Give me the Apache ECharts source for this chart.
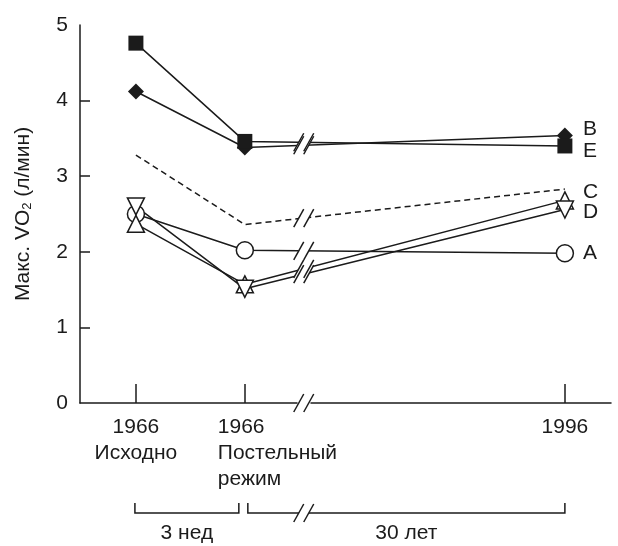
<!DOCTYPE html>
<html>
<head>
<meta charset="utf-8">
<script src="https://cdn.jsdelivr.net/npm/echarts@6/dist/echarts.min.js"></script>
<style>
  html, body { margin: 0; padding: 0; background: #fff; }
  #chart { width: 618px; height: 546px; }
</style>
</head>
<body>
<div id="chart"></div>
<script>
// Time of each test, in weeks after the baseline test:
// baseline, after 3 weeks of bed rest, and 30 years later.
const stageWeeks = [0, 3, 1565];
const stageYears = ['1966', '1966', '1996'];
const stageNames = [['Исходно'], ['Постельный', 'режим'], []];
const periodLabels = ['3 нед', '30 лет'];

// Max VO2, l/min, per subject and the group mean
const subjectA = [2.50, 2.02, 1.98];
const subjectB = [4.12, 3.38, 3.54];
const subjectC = [2.37, 1.57, 2.68];
const subjectD = [2.60, 1.51, 2.56];
const subjectE = [4.76, 3.46, 3.40];
const groupMean = [3.28, 2.36, 2.83];

const yTicks = [0, 1, 2, 3, 4, 5];

const INK = '#1b1b1b';
const FONT = '"Liberation Sans", Arial, Helvetica, sans-serif';
const FS = 21;

// Broken time axis: the 30-year stretch is cut out of the scale.
const AXIS_MIN = -1.54;
const AXIS_MAX = 1566.27;
const AXIS_BREAK = { start: 4.43, end: 1558.0, gap: 0.385 };

const chart = echarts.init(document.getElementById('chart'), null, { renderer: 'canvas' });

function toPoints(values) {
  return values.map((v, i) => [stageWeeks[i], v]);
}

function stageIndex(value) {
  for (let i = 0; i < stageWeeks.length; i++) {
    if (Math.abs(stageWeeks[i] - value) < 0.01) return i;
  }
  return -1;
}

function subjectSeries(letter, values, marker) {
  return {
    type: 'line',
    name: letter,
    data: toPoints(values),
    symbol: marker.symbol,
    symbolSize: marker.size,
    symbolRotate: marker.rotate || 0,
    showAllSymbol: true,
    lineStyle: { color: INK, width: 1.5 },
    itemStyle: {
      color: marker.filled ? INK : '#fff',
      borderColor: INK,
      borderWidth: marker.filled ? 0 : 1.5
    },
    emphasis: { disabled: true },
    endLabel: {
      show: true,
      formatter: letter,
      distance: 18,
      offset: [0, marker.labelDy],
      color: INK,
      fontSize: FS,
      fontFamily: FONT
    },
    z: 2
  };
}

// Short "//" mark across a line, with the line cut between the strokes
function breakMark(bx, by, children) {
  const hx = 5, hy = 9, g = 5;
  const a1 = [bx - g - hx, by + hy], a2 = [bx - g + hx, by - hy];
  const b1 = [bx + g - hx, by + hy], b2 = [bx + g + hx, by - hy];
  children.push({
    type: 'polygon', z2: 1,
    shape: { points: [a1, a2, b2, b1] },
    style: { fill: '#fff' }
  });
  [[a1, a2], [b1, b2]].forEach(([p, q]) => {
    children.push({
      type: 'line', z2: 2,
      shape: { x1: p[0], y1: p[1], x2: q[0], y2: q[1] },
      style: { stroke: INK, lineWidth: 1.5 }
    });
  });
}

function breakCenterX(api) {
  return (api.coord([AXIS_BREAK.start, 0])[0] + api.coord([AXIS_BREAK.end, 0])[0]) / 2;
}

function renderSegmentBreak(params, api) {
  const p1 = api.coord([api.value(0), api.value(1)]);
  const p2 = api.coord([api.value(2), api.value(3)]);
  const bx = breakCenterX(api);
  const by = p1[1] + (bx - p1[0]) / (p2[0] - p1[0]) * (p2[1] - p1[1]);
  const children = [];
  breakMark(bx, by, children);
  return { type: 'group', children };
}

function renderPeriod(params, api) {
  const i = params.dataIndex;
  const pa = api.coord([api.value(0), 0]);
  const pb = api.coord([api.value(1), 0]);
  let left = pa[0], right = pb[0];
  if (i === 0) { left -= 1; right -= 6; } else { left += 3; }
  const y = pa[1] + 110;
  const cap = 10;
  const children = [{
    type: 'polyline', z2: 0,
    shape: { points: [[left, y - cap], [left, y], [right, y], [right, y - cap]] },
    style: { stroke: INK, lineWidth: 1.5, fill: null }
  }, {
    type: 'text', z2: 3,
    style: {
      text: periodLabels[i],
      x: (left + right) / 2, y: y + 20,
      align: 'center', verticalAlign: 'middle',
      fontSize: FS, fontFamily: FONT, fill: INK
    }
  }];
  if (i === 1) breakMark(breakCenterX(api), y, children);
  return { type: 'group', children };
}

const allLines = [groupMean, subjectA, subjectB, subjectC, subjectD, subjectE];
const segmentBreaks = allLines.map(v => [stageWeeks[1], v[1], stageWeeks[2], v[2]]);
segmentBreaks.push([stageWeeks[1], 0, stageWeeks[2], 0]);

const option = {
  backgroundColor: '#fff',
  animation: false,
  grid: { left: 80, right: 7, top: 25, bottom: 143 },
  xAxis: {
    type: 'value',
    min: AXIS_MIN,
    max: AXIS_MAX,
    breaks: [AXIS_BREAK],
    breakArea: { show: false },
    axisLine: { show: true, onZero: false, lineStyle: { color: INK, width: 1.5 } },
    axisTick: {
      show: true, inside: true, length: 19,
      customValues: stageWeeks,
      lineStyle: { color: INK, width: 1.5 }
    },
    axisLabel: {
      customValues: stageWeeks,
      hideOverlap: false,
      showMinLabel: true,
      showMaxLabel: true,
      color: INK, fontSize: FS, fontFamily: FONT,
      lineHeight: 26, margin: 11,
      formatter: (value) => {
        const i = stageIndex(value);
        if (i < 0) return '';
        const lines = [stageYears[i]].concat(stageNames[i]);
        if (i === 1) return lines.map(s => '{L|' + s + '}').join('\n');
        return lines.join('\n');
      },
      rich: {
        // narrow box so the left-aligned block starts a little left of its tick
        L: { fontSize: FS, fontFamily: FONT, color: INK, lineHeight: 26, align: 'left', width: 54 }
      }
    },
    splitLine: { show: false }
  },
  yAxis: {
    type: 'value',
    min: yTicks[0],
    max: yTicks[yTicks.length - 1],
    interval: 1,
    axisLine: { show: true, onZero: false, lineStyle: { color: INK, width: 1.5 } },
    axisTick: {
      show: true, inside: true, length: 10,
      customValues: yTicks.slice(1, -1),
      lineStyle: { color: INK, width: 1.5 }
    },
    axisLabel: { color: INK, fontSize: FS, fontFamily: FONT, margin: 12, showMinLabel: true, showMaxLabel: true },
    splitLine: { show: false },
    name: '{n|Макс. VO}{s|2}{n| (л/мин)}',
    nameLocation: 'middle',
    nameRotate: 90,
    nameGap: 46,
    nameTextStyle: {
      color: INK,
      rich: {
        n: { fontSize: FS, fontFamily: FONT, color: INK },
        s: { fontSize: 13, fontFamily: FONT, color: INK, padding: [9, 0, 0, 0] }
      }
    }
  },
  series: [
    {
      type: 'line',
      name: 'mean',
      data: toPoints(groupMean),
      symbol: 'none',
      lineStyle: { color: INK, width: 1.5, type: [6, 4] },
      emphasis: { disabled: true },
      z: 1
    },
    subjectSeries('A', subjectA, { symbol: 'circle', size: 17, labelDy: 0 }),
    subjectSeries('C', subjectC, { symbol: 'triangle', size: 17, labelDy: -8 }),
    subjectSeries('D', subjectD, { symbol: 'triangle', size: 17, rotate: 180, labelDy: 3 }),
    subjectSeries('B', subjectB, { symbol: 'diamond', size: 16, filled: true, labelDy: -6 }),
    subjectSeries('E', subjectE, { symbol: 'rect', size: 15, filled: true, labelDy: 5 }),
    {
      type: 'custom',
      name: 'segment breaks',
      data: segmentBreaks,
      encode: { x: [0, 2], y: [1, 3] },
      renderItem: renderSegmentBreak,
      clip: false,
      silent: true,
      z: 5
    },
    {
      type: 'custom',
      name: 'periods',
      data: [[stageWeeks[0], stageWeeks[1], 0], [stageWeeks[1], stageWeeks[2], 0]],
      encode: { x: [0, 1], y: 2 },
      renderItem: renderPeriod,
      clip: false,
      silent: true,
      z: 5
    }
  ]
};

chart.setOption(option);
</script>
</body>
</html>
